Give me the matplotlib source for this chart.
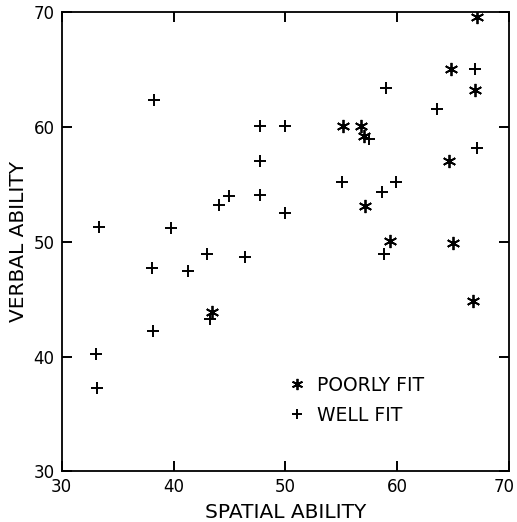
import matplotlib
matplotlib.use("Agg")
import matplotlib.pyplot as plt
from matplotlib.transforms import ScaledTranslation

# Poorly fit students (asterisks)
poor_spatial = [67.1, 64.8, 67.0, 55.2, 56.8, 57.0, 64.6, 57.1, 59.4, 65.0, 66.8, 43.4]
poor_verbal  = [69.6, 65.1, 63.2, 60.1, 60.1, 59.2, 57.0, 53.1, 50.1, 49.9, 44.8, 43.9]

# Well fit students (plus signs)
well_spatial = [38.3, 47.7, 50.0, 47.7, 45.0, 44.1, 47.7, 50.0, 33.3, 39.8,
                67.0, 59.0, 63.6, 57.5, 67.1, 55.1, 59.9, 58.6, 43.0, 46.4,
                38.1, 41.3, 43.3, 38.2, 33.1, 33.2, 58.8]
well_verbal  = [62.4, 60.1, 60.1, 57.0, 54.0, 53.2, 54.1, 52.5, 51.3, 51.2,
                65.1, 63.4, 61.6, 59.0, 58.2, 55.2, 55.2, 54.3, 48.9, 48.7,
                47.7, 47.5, 43.3, 42.2, 40.2, 37.3, 48.9]

x_ticks = [30, 40, 50, 60, 70]
y_ticks = [30, 40, 50, 60, 70]
x_label = "SPATIAL ABILITY"
y_label = "VERBAL ABILITY"
labels = ["POORLY FIT", "WELL FIT"]

plt.rcParams['font.family'] = ['DejaVu Sans']

fig = plt.figure(figsize=(5.17, 5.22), dpi=100)
ax = fig.add_axes([0.1193, 0.0971, 0.8652, 0.8793])

ast = (6, 2, 0)
ax.plot(poor_spatial, poor_verbal, linestyle='none', marker=ast, markersize=9.5,
        markeredgewidth=1.3, color='black', label=labels[0])
ax.plot(well_spatial, well_verbal, linestyle='none', marker='+', markersize=8.5,
        markeredgewidth=1.4, color='black', label=labels[1])

ax.set_xlim(30, 70)
ax.set_ylim(30, 70)
ax.set_xticks(x_ticks)
ax.set_yticks(y_ticks)
ax.tick_params(direction='in', top=True, right=True, length=7, width=1.4,
               labelsize=12, colors='black', pad=5)
for s in ax.spines.values():
    s.set_linewidth(1.3)

# nudge the last x tick label so it stays inside the figure
last = ax.get_xticklabels()[-1]
last.set_transform(last.get_transform() + ScaledTranslation(-5 / 100, 0, fig.dpi_scale_trans))

ax.set_xlabel(x_label, fontsize=14.5, labelpad=5)
ax.set_ylabel(y_label, fontsize=14.5, labelpad=4)

ax.legend(loc='upper left', bbox_to_anchor=(0.488, 0.225), frameon=False,
          fontsize=13.5, handlelength=1.0, handletextpad=0.6, labelspacing=0.6,
          markerscale=0.85, borderaxespad=0)

fig.savefig("out.png", dpi=100)
